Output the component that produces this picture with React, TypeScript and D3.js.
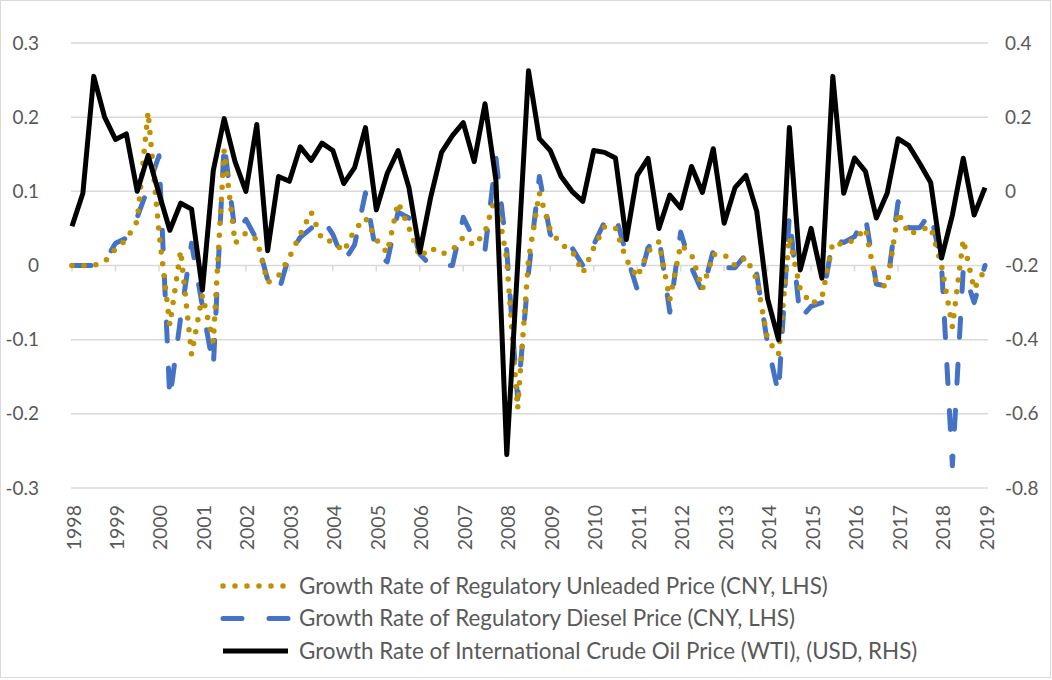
import * as d3 from 'd3';
import React from 'react';

const W = 1052;
const H = 680;

// quarterly, 1998Q1 .. 2019Q1
const YEARS = d3.range(1998, 2020);

const UNLEADED = [
  0, 0, 0, 0.005,
  0.022, 0.035, 0.06, 0.207,
  0.045, -0.08, 0.02, -0.12,
  -0.04, -0.103, 0.155, 0.03,
  0.044, 0.035, -0.023, -0.014,
  0.011, 0.042, 0.072, 0.035,
  0.032, 0.019, 0.048, 0.064,
  0.035, 0.017, 0.085, 0.051,
  0.011, 0.024, 0.015, 0.021,
  0.038, 0.027, 0.045, 0.095,
  0.008, -0.193, 0.008, 0.098,
  0.048, 0.028, 0.02, -0.01,
  0.024, 0.052, 0.051, 0.008,
  -0.016, 0.019, 0.032, -0.046,
  0.028, 0.015, -0.032, 0.015,
  0.015, 0.0, 0.011, -0.019,
  -0.1, -0.12, 0.038, -0.032,
  -0.052, -0.043, 0.031, 0.028,
  0.035, 0.05, -0.025, -0.028,
  0.072, 0.042, 0.048, 0.052,
  0.0, -0.083, 0.035, -0.032,
  -0.005,
];

const DIESEL = [
  0, 0, 0, 0.005,
  0.03, 0.037, 0.065, 0.105,
  0.148, -0.18, -0.07, 0.03,
  -0.055, -0.137, 0.165, 0.044,
  0.062, 0.035, -0.019, -0.036,
  0.015, 0.038, 0.05, 0.064,
  0.042, 0.005, 0.028, 0.098,
  0.015, 0.005, 0.072, 0.064,
  0.015, 0, 0, 0,
  0.065, 0.035, 0.021, 0.145,
  0.02, -0.18, -0.01, 0.12,
  0.042, 0.028, 0.024, 0.0,
  0.028, 0.059, 0.068, 0.015,
  -0.032, 0.024, 0.039, -0.063,
  0.045, -0.003, -0.036, 0.02,
  -0.003, -0.003, 0.015, -0.012,
  -0.106, -0.173, 0.068, -0.072,
  -0.055, -0.05, 0.035, 0.031,
  0.039, 0.066, -0.025, -0.028,
  0.086, 0.051, 0.051, 0.072,
  0.0, -0.27, -0.005, -0.05,
  0.0,
];

const WTI = [
  -0.094, -0.005, 0.31, 0.2,
  0.14, 0.155, 0.0, 0.097,
  -0.005, -0.105, -0.032, -0.048,
  -0.266, 0.056, 0.196, 0.08,
  0.0, 0.18, -0.16, 0.04,
  0.027, 0.12, 0.083, 0.13,
  0.11, 0.021, 0.064, 0.172,
  -0.05, 0.048, 0.11, 0.01,
  -0.164, -0.016, 0.105, 0.15,
  0.185, 0.08, 0.236, 0.03,
  -0.71, -0.2, 0.325, 0.142,
  0.11, 0.04, 0.0, -0.027,
  0.11, 0.105, 0.09, -0.13,
  0.043, 0.089, -0.1, -0.01,
  -0.045, 0.067, -0.003, 0.115,
  -0.086, 0.01, 0.043, -0.054,
  -0.29, -0.4, 0.172, -0.212,
  -0.1, -0.234, 0.31, -0.005,
  0.09, 0.054, -0.072, -0.005,
  0.142, 0.123, 0.075, 0.024,
  -0.18, -0.064, 0.089, -0.064,
  0.01,
];

const LEFT_TICKS = [-0.3, -0.2, -0.1, 0, 0.1, 0.2, 0.3];
const RIGHT_TICKS = [-0.8, -0.6, -0.4, -0.2, 0, 0.2, 0.4];

const LEGEND_LABELS = [
  'Growth Rate of Regulatory Unleaded Price (CNY, LHS)',
  'Growth Rate of Regulatory Diesel Price (CNY, LHS)',
  'Growth Rate of International Crude Oil Price (WTI), (USD, RHS)',
];

const GOLD = '#BF9000';
const BLUE = '#4472C4';
const GRID = '#D9D9D9';
const TEXT = '#595959';
const FONT = 'Lato, "Open Sans", sans-serif';

const styles = [
  { stroke: GOLD, width: 5.5, dash: '0 12' },
  { stroke: BLUE, width: 5, dash: '19 27' },
  { stroke: '#000', width: 5, dash: null },
];

const fmt = (v: number) => (v === 0 ? '0' : String(v));

const App = () => {
  const left = 71;
  const right = 988;
  const top = 43;
  const bottom = 488;

  const x = d3.scaleLinear().domain([0, WTI.length - 1]).range([72, 985]);
  const yL = d3.scaleLinear().domain([-0.3, 0.3]).range([bottom, top]);
  const yR = d3.scaleLinear().domain([-0.8, 0.4]).range([bottom, top]);

  const lineL = d3
    .line<number>()
    .x((d, i) => x(i))
    .y((d) => yL(d));
  const lineR = d3
    .line<number>()
    .x((d, i) => x(i))
    .y((d) => yR(d));

  const zeroY = yL(0);

  return (
    <svg
      width={W}
      height={H}
      style={{ position: 'absolute', left: 0, top: 0, background: '#fff' }}
      fontFamily={FONT}
    >
      <rect x={0.5} y={0.5} width={W - 2} height={H - 3} fill="#fff" stroke={GRID} />

      {/* gridlines */}
      {LEFT_TICKS.map((t) => (
        <line key={t} x1={left} x2={right} y1={yL(t)} y2={yL(t)} stroke={GRID} strokeWidth={1.5} />
      ))}

      {/* x axis ticks on zero line */}
      {YEARS.map((yr, k) => (
        <line
          key={yr}
          x1={x(k * 4)}
          x2={x(k * 4)}
          y1={zeroY}
          y2={zeroY + 6}
          stroke={GRID}
          strokeWidth={1.5}
        />
      ))}

      {/* left axis labels */}
      {LEFT_TICKS.map((t) => (
        <text key={t} x={39} y={yL(t) + 6.5} textAnchor="end" fontSize={19} fill={TEXT}>
          {fmt(t)}
        </text>
      ))}

      {/* right axis labels */}
      {RIGHT_TICKS.map((t) => (
        <text key={t} x={1005} y={yR(t) + 6.5} textAnchor="start" fontSize={19} fill={TEXT}>
          {fmt(t)}
        </text>
      ))}

      {/* year labels */}
      {YEARS.map((yr, k) => (
        <text
          key={yr}
          transform={`translate(${x(k * 4) + 1}, 505) rotate(-90)`}
          textAnchor="end"
          dominantBaseline="central"
          fontSize={19.5}
          fill={TEXT}
        >
          {yr}
        </text>
      ))}

      {/* series */}
      <path
        d={lineL(DIESEL) || ''}
        fill="none"
        stroke={styles[1].stroke}
        strokeWidth={styles[1].width}
        strokeDasharray={styles[1].dash}
        strokeLinecap="round"
        strokeLinejoin="round"
      />
      <path
        d={lineL(UNLEADED) || ''}
        fill="none"
        stroke={styles[0].stroke}
        strokeWidth={styles[0].width}
        strokeDasharray={styles[0].dash}
        strokeLinecap="round"
        strokeLinejoin="round"
      />
      <path
        d={lineR(WTI) || ''}
        fill="none"
        stroke={styles[2].stroke}
        strokeWidth={styles[2].width}
        strokeLinejoin="round"
      />

      {/* legend */}
      {LEGEND_LABELS.map((label, k) => {
        const cy = 586 + k * 32.5;
        const s = styles[k];
        return (
          <g key={label}>
            <line
              x1={223}
              x2={288}
              y1={cy}
              y2={cy}
              stroke={s.stroke}
              strokeWidth={s.width}
              strokeDasharray={s.dash || undefined}
              strokeLinecap={k === 2 ? 'butt' : 'round'}
            />
            <text x={299} y={cy + 7.5} fontSize={22.4} fill={TEXT}>
              {label}
            </text>
          </g>
        );
      })}
    </svg>
  );
};

export default App;
